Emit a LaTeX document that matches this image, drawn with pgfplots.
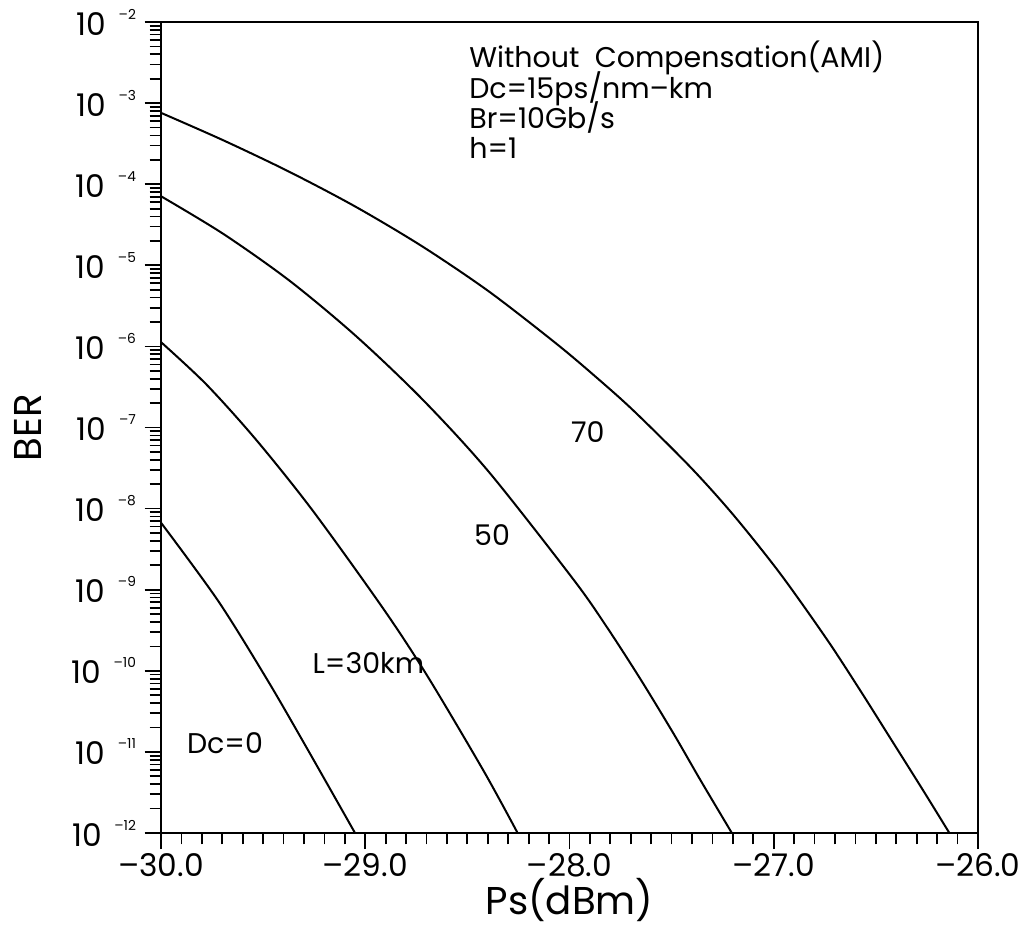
\documentclass[border=0pt]{standalone}
\usepackage{pgfplots}
\pgfplotsset{compat=1.18}
\usepackage{fontspec}
\setmainfont{Poppins}

\begin{document}
\begin{tikzpicture}
\begin{axis}[
  scale only axis,
  width=326.8pt, height=324.4pt,
  xmin=-30, xmax=-26,
  ymode=log, log basis y=10,
  ymin=1e-12, ymax=1e-2,
  axis line style={line width=0.8pt},
  every tick/.style={draw=black, line width=0.7pt},
  xtick align=outside, ytick align=outside,
  xtick pos=bottom, ytick pos=left,
  major tick length=6.5pt, minor tick length=4.5pt,
  xtick={-30,-29,-28,-27,-26},
  xticklabels={–30.0,–29.0,–28.0,–27.0,–26.0},
  minor x tick num=9,
  ytick={1e-12,1e-11,1e-10,1e-9,1e-8,1e-7,1e-6,1e-5,1e-4,1e-3,1e-2},
  minor ytick={
    2e-12,3e-12,4e-12,5e-12,6e-12,7e-12,8e-12,9e-12,
    2e-11,3e-11,4e-11,5e-11,6e-11,7e-11,8e-11,9e-11,
    2e-10,3e-10,4e-10,5e-10,6e-10,7e-10,8e-10,9e-10,
    2e-9,3e-9,4e-9,5e-9,6e-9,7e-9,8e-9,9e-9,
    2e-8,3e-8,4e-8,5e-8,6e-8,7e-8,8e-8,9e-8,
    2e-7,3e-7,4e-7,5e-7,6e-7,7e-7,8e-7,9e-7,
    2e-6,3e-6,4e-6,5e-6,6e-6,7e-6,8e-6,9e-6,
    2e-5,3e-5,4e-5,5e-5,6e-5,7e-5,8e-5,9e-5,
    2e-4,3e-4,4e-4,5e-4,6e-4,7e-4,8e-4,9e-4,
    2e-3,3e-3,4e-3,5e-3,6e-3,7e-3,8e-3,9e-3},
  yticklabel={\pgfmathtruncatemacro{\ex}{round(-\tick)}10\hspace{5pt}\raisebox{6.4pt}{\fontsize{5.5}{5.5}\selectfont –\ex}},
  tick label style={font=\fontsize{12.5}{14}\selectfont},
  xticklabel style={yshift=2pt},
  yticklabel style={xshift=0pt},
  xlabel={Ps(dBm)},
  ylabel={BER},
  label style={font=\fontsize{15.5}{17}\selectfont},
  xlabel style={at={(axis description cs:0.5,-0.083)}, anchor=center},
  ylabel style={at={(axis description cs:-0.163,0.5)}, anchor=center},
  clip=false,
]
% L = 70 km
\addplot[black, line width=0.8pt, smooth, tension=0.5, no marks] coordinates {
  (-30.000,7.59e-4) (-29.696,3.49e-4) (-29.371,1.42e-4) (-29.045,5.24e-5)
  (-28.719,1.70e-5) (-28.394,4.75e-6) (-28.068,1.10e-6) (-27.873,4.25e-7)
  (-27.686,1.61e-7) (-27.409,3.27e-8) (-27.198,8.38e-9) (-26.970,1.60e-9)
  (-26.741,2.47e-10) (-26.579,5.86e-11) (-26.433,1.53e-11) (-26.270,3.40e-12)
  (-26.140,1.0e-12)
};
% L = 50 km
\addplot[black, line width=0.8pt, smooth, tension=0.5, no marks] coordinates {
  (-30.000,7.11e-5) (-29.696,2.45e-5) (-29.371,6.47e-6) (-29.045,1.34e-6)
  (-28.719,2.21e-7) (-28.394,2.82e-8) (-27.979,1.32e-9) (-27.816,3.43e-10)
  (-27.653,7.93e-11) (-27.491,1.69e-11) (-27.360,4.54e-12) (-27.205,1.0e-12)
};
% L = 30 km
\addplot[black, line width=0.8pt, smooth, tension=0.5, no marks] coordinates {
  (-30.000,1.13e-6) (-29.778,3.40e-7) (-29.534,7.05e-8) (-29.257,9.44e-9)
  (-28.908,5.66e-10) (-28.694,8.49e-11) (-28.420,5.81e-12) (-28.254,1.0e-12)
};
% Dc = 0
\addplot[black, line width=0.8pt, smooth, tension=0.5, no marks] coordinates {
  (-30.000,6.71e-9) (-29.719,7.21e-10) (-29.475,7.41e-11) (-29.280,1.05e-11)
  (-29.050,1.0e-12)
};

\begin{scope}[every node/.style={font=\fontsize{11.4}{13}\selectfont, inner sep=0pt}]
\node[anchor=base west] at (axis cs:-28.493,10^-2.555) {Without\ \ Compensation(AMI)};
\node[anchor=base west] at (axis cs:-28.493,10^-2.937) {Dc=15ps/nm–km};
\node[anchor=base west] at (axis cs:-28.493,10^-3.307) {Br=10Gb/s};
\node[anchor=base west] at (axis cs:-28.493,10^-3.677) {h=1};
\node[anchor=base west] at (axis cs:-27.995,10^-7.179) {70};
\node[anchor=base west] at (axis cs:-28.469,10^-8.449) {50};
\node[anchor=base west] at (axis cs:-29.260,10^-10.039) {L=30km};
\node[anchor=base west] at (axis cs:-29.875,10^-11.014) {Dc=0};
\end{scope}
\end{axis}
\pgfresetboundingbox
\path (-64.4pt,-37.2pt) rectangle (346.4pt,333.2pt);
\end{tikzpicture}
\end{document}
